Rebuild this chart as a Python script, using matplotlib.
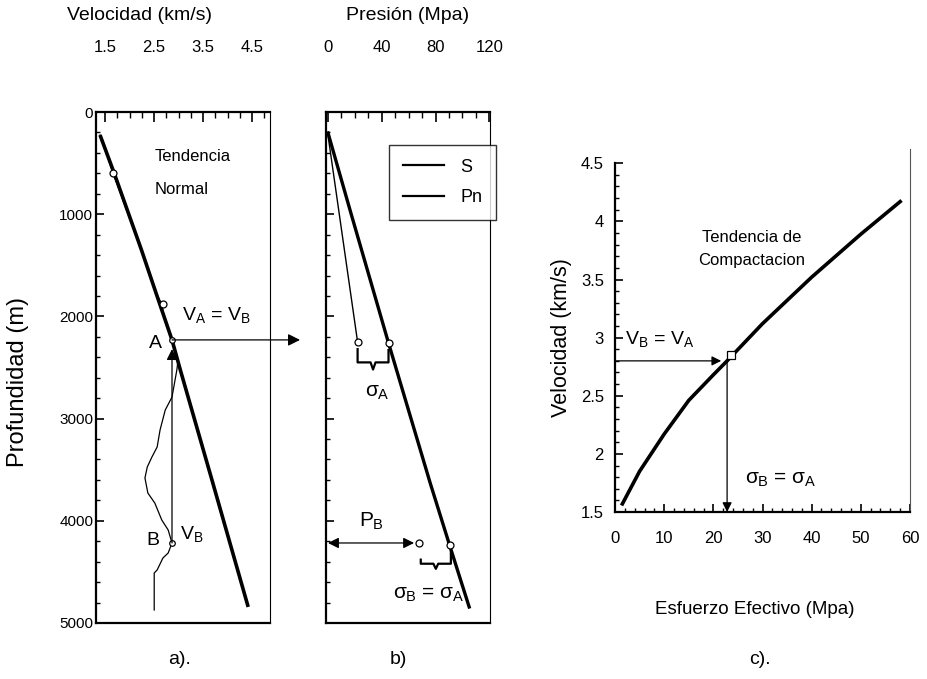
import matplotlib
matplotlib.use("Agg")
import numpy as np
import matplotlib.pyplot as plt
from matplotlib.ticker import MultipleLocator, FixedLocator

NARROW = ["Liberation Sans", "DejaVu Sans"]
WIDE = ["Liberation Sans", "DejaVu Sans"]
plt.rcParams["font.family"] = NARROW
plt.rcParams["mathtext.fontset"] = "custom"
plt.rcParams["mathtext.rm"] = "Liberation Sans"
plt.rcParams["mathtext.it"] = "Liberation Sans"

# ---------------- a) velocity log vs depth ----------------
vel_ticks = [1.5, 2.5, 3.5, 4.5]
depth_ticks = [0, 1000, 2000, 3000, 4000, 5000]
trend_depth = [225, 600, 1350, 1770, 2230, 2524, 3630, 4843]
trend_vel = [1.398, 1.688, 2.244, 2.540, 2.867, 3.037, 3.700, 4.422]
log_depth = [225, 600, 1000, 1350, 1770, 1880, 2000, 2230, 2430, 2524, 2789, 2916,
             3112, 3278, 3376, 3474, 3581, 3728, 3826, 3992, 4090, 4217, 4315,
             4364, 4481, 4511, 4873]
log_vel = [1.398, 1.664, 1.972, 2.244, 2.540, 2.658, 2.706, 2.867, 2.990, 2.966,
           2.867, 2.729, 2.623, 2.564, 2.457, 2.362, 2.315, 2.374, 2.516, 2.658,
           2.789, 2.867, 2.789, 2.682, 2.564, 2.504, 2.504]
log_marks_depth = [600, 1880]
log_marks_vel = [1.664, 2.682]
depth_a = 2230
depth_b = 4217
vel_ab = 2.867

# ---------------- b) pressures vs depth ----------------
press_ticks = [0, 40, 80, 120]
s_depth = [205, 988, 2260, 2945, 3630, 4237, 4843]
s_press = [0, 17, 45, 60.5, 76, 90.4, 105]
pn_depth = [230, 2250]
pn_press = [0, 22]
s_a, pn_a = 45, 22
s_b, p_b = 90.4, 68

# ---------------- c) compaction trend ----------------
sigma_ticks = [0, 10, 20, 30, 40, 50, 60]
velc_ticks = [1.5, 2, 2.5, 3, 3.5, 4, 4.5]
velc_labels = ["1.5", "2", "2.5", "3", "3.5", "4", "4.5"]
sigma_c = [1.5, 5, 10, 15, 20, 22.8, 30, 40, 50, 58]
vel_c = [1.57, 1.85, 2.17, 2.46, 2.68, 2.80, 3.12, 3.52, 3.89, 4.17]
sigma_ab = 22.8
vel_c_ab = 2.80

W, H = 928, 679
fig = plt.figure(figsize=(W / 100, H / 100), dpi=100)


def box(l, t, r, b):
    return [l / W, 1 - b / H, (r - l) / W, (b - t) / H]


def style_spines(ax, lw=1.6):
    for side, sp in ax.spines.items():
        sp.set_linewidth(lw)
        sp.set_color("black")
    ax.spines["right"].set_linewidth(0.8)


arrow_kw = dict(arrowstyle="-|>", color="black", lw=0.9, mutation_scale=14,
                shrinkA=0, shrinkB=0)

# ---- panel a
ax1 = fig.add_axes(box(96, 112, 270, 623))
ax1.plot(log_vel, log_depth, color="black", lw=0.9)
ax1.plot(trend_vel, trend_depth, color="black", lw=2.6, solid_capstyle="butt")
ax1.plot(log_marks_vel, log_marks_depth, "o", ms=5, mfc="white", mec="black",
         mew=0.9)
ax1.plot([vel_ab, vel_ab], [depth_a, depth_b], "o", ms=4, mfc="white",
         mec="black", mew=0.9)
ax1.annotate("", xy=(vel_ab, depth_a + 90), xytext=(vel_ab, depth_b),
             arrowprops=dict(arrow_kw, mutation_scale=16))
ax1.annotate("", xy=(5.48, depth_a), xytext=(vel_ab, depth_a),
             arrowprops=dict(arrow_kw, mutation_scale=18), annotation_clip=False)
ax1.set_xlim(1.316, 4.867)
ax1.set_ylim(5000, 0)
ax1.xaxis.set_major_locator(FixedLocator(vel_ticks))
ax1.xaxis.set_minor_locator(MultipleLocator(0.25))
ax1.yaxis.set_major_locator(FixedLocator(depth_ticks))
ax1.yaxis.set_minor_locator(MultipleLocator(200))
ax1.xaxis.tick_top()
ax1.tick_params(axis="both", which="both", direction="in", labelsize=11)
ax1.tick_params(axis="x", which="major", length=7, width=1.2, pad=41,
                labelsize=12)
ax1.tick_params(axis="x", which="minor", length=4, width=1)
ax1.tick_params(axis="y", which="major", length=6, width=1.2, pad=2)
ax1.tick_params(axis="y", which="minor", length=3, width=1)
ax1.set_xticklabels(["1.5", "2.5", "3.5", "4.5"])
style_spines(ax1)
ax1.text(2.52, 440, "Tendencia", fontsize=12, va="center", ha="left")
ax1.text(2.52, 763, "Normal", fontsize=12, va="center", ha="left")
ax1.text(3.07, 1990, r"$\mathregular{V_A}$ = $\mathregular{V_B}$", fontsize=14,
         va="center", ha="left")
ax1.text(2.52, 2265, "A", fontsize=14, va="center", ha="center")
ax1.text(2.48, 4190, "B", fontsize=14, va="center", ha="center")
ax1.text(3.27, 4130, r"$\mathregular{V_B}$", fontsize=14, va="center",
         ha="center")

# ---- panel b
ax2 = fig.add_axes(box(326, 112, 490, 623))
ax2.plot(s_press, s_depth, color="black", lw=2.4, label="S")
ax2.plot(pn_press, pn_depth, color="black", lw=1.0, label="Pn")
ax2.plot([pn_a, s_a, p_b, s_b], [2250, 2260, depth_b, 4237], "o", ms=5,
         mfc="white", mec="black", mew=0.9)


def brace(ax, x0, x1, y0, y1, ybot, cusp):
    xm = (x0 + x1) / 2
    d = (x1 - x0) * 0.08
    ax.plot([x0, x0, xm - d, xm, xm + d, x1, x1],
            [y0, ybot, ybot, ybot + cusp, ybot, ybot, y1],
            color="black", lw=1.6, solid_joinstyle="round")


brace(ax2, pn_a, s_a, 2320, 2330, 2450, 70)
brace(ax2, p_b + 1, s_b + 1, 4380, 4300, 4420, 50)
ax2.annotate("", xy=(0, depth_b), xytext=(p_b - 4, depth_b),
             arrowprops=dict(arrow_kw, arrowstyle="<|-|>", mutation_scale=16))
ax2.text(37, 2740, r"$\sigma_A$", fontsize=15, ha="center", va="center")
ax2.text(32, 4010, r"$P_B$", fontsize=15, ha="center", va="center")
ax2.text(75, 4720, r"$\sigma_B$ = $\sigma_A$", fontsize=15, ha="center",
         va="center")
ax2.set_xlim(-1.5, 120.5)
ax2.set_ylim(5000, 0)
ax2.xaxis.set_major_locator(FixedLocator(press_ticks))
ax2.xaxis.set_minor_locator(MultipleLocator(10))
ax2.yaxis.set_major_locator(FixedLocator(depth_ticks))
ax2.yaxis.set_minor_locator(MultipleLocator(200))
ax2.xaxis.tick_top()
ax2.tick_params(axis="both", which="both", direction="in", labelsize=11)
ax2.tick_params(axis="x", which="major", length=7, width=1.2, pad=41,
                labelsize=12)
ax2.tick_params(axis="x", which="minor", length=4, width=1)
ax2.tick_params(axis="y", which="major", length=6, width=1.2, labelleft=False)
ax2.tick_params(axis="y", which="minor", length=3, width=1)
style_spines(ax2)
leg = ax2.legend(loc="upper left", bbox_to_anchor=(0.385, 0.935), fontsize=13,
                 frameon=True, fancybox=False, edgecolor="black",
                 handlelength=2.3, borderpad=0.75, labelspacing=0.75,
                 handletextpad=0.9, borderaxespad=0)
leg.get_frame().set_linewidth(1.0)
for h in leg.get_lines():
    h.set_linewidth(1.6)

# ---- panel c
ax3 = fig.add_axes(box(615, 140, 910, 512))
ax3.plot(sigma_c, vel_c, color="black", lw=2.6)
ax3.plot([sigma_ab + 0.7], [vel_c_ab + 0.05], "s", ms=6, mfc="white",
         mec="black", mew=0.9)
ax3.annotate("", xy=(sigma_ab - 1.2, vel_c_ab), xytext=(0, vel_c_ab),
             arrowprops=dict(arrow_kw, mutation_scale=14))
ax3.annotate("", xy=(sigma_ab, 1.5), xytext=(sigma_ab, vel_c_ab),
             arrowprops=dict(arrow_kw, mutation_scale=14))
ax3.text(27.7, 3.86, "Tendencia de", fontsize=12, ha="center", va="center")
ax3.text(27.7, 3.66, "Compactacion", fontsize=12, ha="center", va="center")
ax3.text(2.0, 2.99, r"$\mathregular{V_B}$ = $\mathregular{V_A}$", fontsize=14,
         ha="left", va="center")
ax3.text(26.5, 1.78, r"$\sigma_B$ = $\sigma_A$", fontsize=15, ha="left",
         va="center")
ax3.set_xlim(0, 60)
ax3.set_ylim(1.5, 4.7)
ax3.xaxis.set_major_locator(FixedLocator(sigma_ticks))
ax3.xaxis.set_minor_locator(MultipleLocator(2))
ax3.yaxis.set_major_locator(FixedLocator(velc_ticks))
ax3.yaxis.set_minor_locator(FixedLocator(np.arange(1.6, 4.45, 0.1)))
ax3.set_yticklabels(velc_labels)
ax3.tick_params(axis="both", which="both", direction="in", labelsize=12)
ax3.tick_params(axis="both", which="major", length=6, width=1.2)
ax3.tick_params(axis="x", which="major", pad=14)
ax3.tick_params(axis="y", which="major", pad=8)
ax3.tick_params(axis="both", which="minor", length=3, width=1)
ax3.tick_params(axis="both", which="both", top=False, right=False)
style_spines(ax3)
ax3.spines["top"].set_visible(False)
ax3.spines["left"].set_bounds(1.5, 4.5)
ax3.spines["right"].set_color("#555555")
ax3.spines["right"].set_bounds(1.5, 4.62)

# ---- shared labels
fig.text(140 / W, 1 - 16 / H, "Velocidad (km/s)", fontsize=14, ha="center",
         va="center")
fig.text(408 / W, 1 - 16 / H, "Presión (Mpa)", fontsize=14, ha="center",
         va="center")
fig.text(18 / W, 1 - 382 / H, "Profundidad (m)", fontsize=17, rotation=90,
         ha="center", va="center", family=WIDE)
fig.text(562 / W, 1 - 338 / H, "Velocidad (km/s)", fontsize=15.5, rotation=90,
         ha="center", va="center", family=WIDE)
fig.text(755 / W, 1 - 610 / H, "Esfuerzo Efectivo (Mpa)", fontsize=13.5,
         ha="center", va="center")
fig.text(180 / W, 1 - 660 / H, "a).", fontsize=14, ha="center", va="center")
fig.text(398 / W, 1 - 660 / H, "b)", fontsize=14, ha="center", va="center")
fig.text(760 / W, 1 - 660 / H, "c).", fontsize=14, ha="center", va="center")

fig.savefig("out.png", dpi=100)
